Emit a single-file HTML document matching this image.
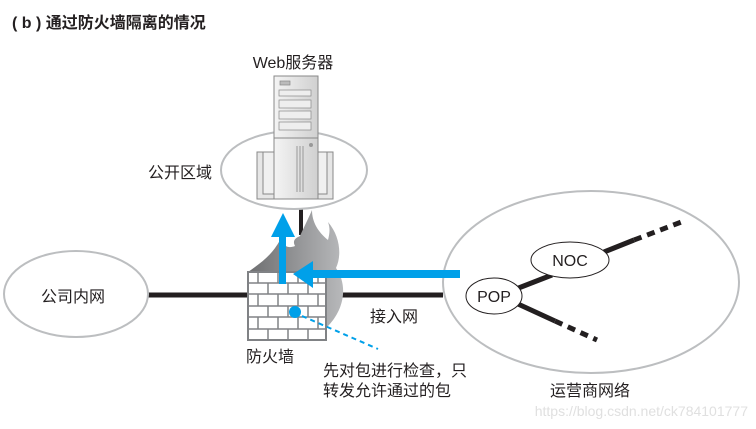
<!DOCTYPE html>
<html><head><meta charset="utf-8"><style>
body{margin:0;background:#fff}
svg{display:block}
text{font-family:"Liberation Sans","Noto Sans CJK SC",sans-serif;fill:#231f20}
</style></head><body>
<svg width="756" height="429" viewBox="0 0 756 429" xmlns="http://www.w3.org/2000/svg">
<defs>
<linearGradient id="fl" x1="0" y1="0" x2="1" y2="0"><stop offset="0" stop-color="#6d6e70"/><stop offset="1" stop-color="#b8b9bb"/></linearGradient>
<linearGradient id="sv" x1="0" y1="0" x2="1" y2="0"><stop offset="0" stop-color="#f4f4f4"/><stop offset="1" stop-color="#d0d0d0"/></linearGradient>
</defs>
<text x="12" y="28" font-size="16" font-weight="bold">( b ) 通过防火墙隔离的情况</text>
<line x1="148" y1="295" x2="250" y2="295" stroke="#231f20" stroke-width="5"/>
<line x1="324" y1="295" x2="443" y2="295" stroke="#231f20" stroke-width="5"/>
<line x1="301" y1="205" x2="301" y2="235" stroke="#231f20" stroke-width="4"/>
<ellipse cx="76" cy="294" rx="72" ry="43" fill="#fff" stroke="#bcbec0" stroke-width="2"/>
<text x="73" y="302" font-size="16" text-anchor="middle">公司内网</text>
<ellipse cx="294" cy="170" rx="73" ry="39" fill="#fff" stroke="#bcbec0" stroke-width="2"/>
<text x="148" y="178" font-size="16">公开区域</text>
<ellipse cx="591" cy="282" rx="148" ry="91" fill="#fff" stroke="#bcbec0" stroke-width="2"/>
<rect x="257" y="152" width="76" height="47" fill="#e6e6e6" stroke="#888" stroke-width="1"/>
<rect x="263" y="152" width="64" height="42" fill="#f0f0f0" stroke="#888" stroke-width="1"/>
<rect x="274" y="76" width="44" height="123" fill="url(#sv)" stroke="#888" stroke-width="1"/>
<rect x="280" y="81" width="10" height="4" fill="#bbb" stroke="#888" stroke-width="0.7"/>
<rect x="279" y="90" width="32" height="6" fill="#eee" stroke="#888" stroke-width="0.7"/>
<rect x="279" y="100" width="32" height="8" fill="#eee" stroke="#888" stroke-width="0.7"/>
<rect x="279" y="111" width="32" height="8" fill="#eee" stroke="#888" stroke-width="0.7"/>
<rect x="279" y="122" width="32" height="8" fill="#eee" stroke="#888" stroke-width="0.7"/>
<line x1="274" y1="138" x2="318" y2="138" stroke="#888"/>
<line x1="297" y1="146" x2="297" y2="192" stroke="#999"/>
<line x1="300" y1="146" x2="300" y2="192" stroke="#999"/>
<line x1="303" y1="146" x2="303" y2="192" stroke="#999"/>
<circle cx="311" cy="145" r="2" fill="#999"/>
<text x="293" y="68" font-size="16" text-anchor="middle">Web服务器</text>
<path d="M300 236 C305 225,310 215,312 210 C312 222,318 232,328 240 C330 232,330 228,328 222 C340 236,342 255,336 268 C348 285,345 310,326 328 L326 272 L248 272 C262 262,272 255,280 240 C285 248,290 248,295 246 C292 240,296 238,300 236Z" fill="url(#fl)"/>
<rect x="248" y="272" width="78" height="68" fill="#fff" stroke="#808285" stroke-width="2"/>
<g stroke="#808285" stroke-width="1.5">
<line x1="248" y1="283" x2="326" y2="283"/><line x1="248" y1="294" x2="326" y2="294"/><line x1="248" y1="306" x2="326" y2="306"/><line x1="248" y1="317" x2="326" y2="317"/><line x1="248" y1="329" x2="326" y2="329"/>
<line x1="258" y1="272" x2="258" y2="283"/><line x1="278" y1="272" x2="278" y2="283"/><line x1="298" y1="272" x2="298" y2="283"/><line x1="318" y1="272" x2="318" y2="283"/>
<line x1="268" y1="283" x2="268" y2="294"/><line x1="288" y1="283" x2="288" y2="294"/><line x1="308" y1="283" x2="308" y2="294"/>
<line x1="258" y1="294" x2="258" y2="306"/><line x1="278" y1="294" x2="278" y2="306"/><line x1="298" y1="294" x2="298" y2="306"/><line x1="318" y1="294" x2="318" y2="306"/>
<line x1="268" y1="306" x2="268" y2="317"/><line x1="288" y1="306" x2="288" y2="317"/><line x1="308" y1="306" x2="308" y2="317"/>
<line x1="258" y1="317" x2="258" y2="329"/><line x1="278" y1="317" x2="278" y2="329"/><line x1="298" y1="317" x2="298" y2="329"/><line x1="318" y1="317" x2="318" y2="329"/>
<line x1="268" y1="329" x2="268" y2="340"/><line x1="288" y1="329" x2="288" y2="340"/><line x1="308" y1="329" x2="308" y2="340"/>
</g>
<rect x="279" y="236" width="7" height="48" fill="#00a0e9"/>
<polygon points="271,237 295,237 283,213" fill="#00a0e9"/>
<rect x="312" y="270" width="148" height="8" fill="#00a0e9"/>
<polygon points="313,261 313,288 293,274" fill="#00a0e9"/>
<circle cx="295" cy="312" r="6" fill="#00a0e9"/>
<line x1="302" y1="316" x2="378" y2="349" stroke="#00a0e9" stroke-width="2" stroke-dasharray="5,4"/>
<text x="246" y="362" font-size="16">防火墙</text>
<text x="370" y="322" font-size="16">接入网</text>
<text x="323" y="376" font-size="16">先对包进行检查，只</text>
<text x="323" y="396" font-size="16">转发允许通过的包</text>
<line x1="516" y1="289" x2="552" y2="275" stroke="#231f20" stroke-width="5"/>
<line x1="604" y1="252" x2="634" y2="240" stroke="#231f20" stroke-width="5"/>
<line x1="634" y1="240" x2="684" y2="221" stroke="#231f20" stroke-width="5" stroke-dasharray="8,6"/>
<line x1="518" y1="304" x2="555" y2="321" stroke="#231f20" stroke-width="5"/>
<line x1="555" y1="321" x2="597" y2="340" stroke="#231f20" stroke-width="5" stroke-dasharray="8,6"/>
<ellipse cx="570" cy="260" rx="39" ry="18" fill="#fff" stroke="#231f20" stroke-width="1"/>
<text x="570" y="266" font-size="16" text-anchor="middle">NOC</text>
<ellipse cx="494" cy="296" rx="28" ry="18" fill="#fff" stroke="#231f20" stroke-width="1"/>
<text x="494" y="302" font-size="16" text-anchor="middle">POP</text>
<text x="590" y="396" font-size="16" text-anchor="middle">运营商网络</text>
<text x="748" y="416" font-size="14" text-anchor="end" style="fill:#e0e0e0">https://blog.csdn.net/ck784101777</text>
</svg>
</body></html>
